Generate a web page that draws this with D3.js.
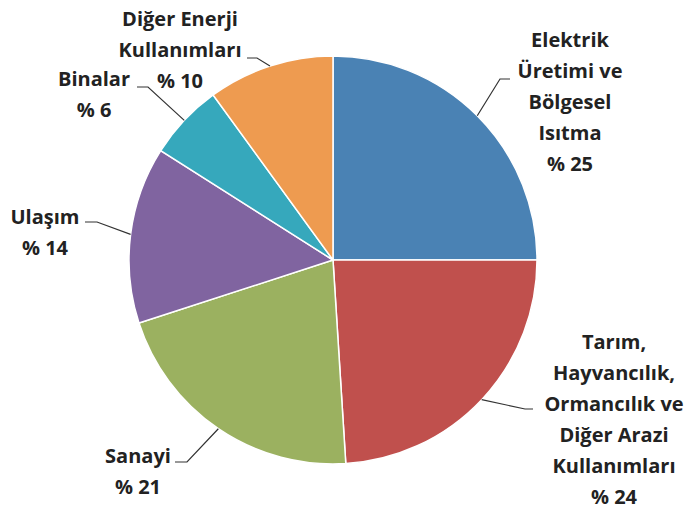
<!DOCTYPE html>
<html>
  <head>
    <meta charset="utf-8">
    <title>Sektörlere göre emisyon payları</title>
    <script src="https://d3js.org/d3.v7.min.js"></script>
    <style>
      body { margin: 0; background: #fff; }
      text { font-family: "Open Sans", Lato, sans-serif; font-weight: bold; fill: #222; }
    </style>
  </head>
  <body>
    <script>

      // data, clockwise from 12 o'clock
      var categories = ["Elektrik Üretimi ve Bölgesel Isıtma",
                        "Tarım, Hayvancılık, Ormancılık ve Diğer Arazi Kullanımları",
                        "Sanayi", "Ulaşım", "Binalar", "Diğer Enerji Kullanımları"];
      var values = [25, 24, 21, 14, 6, 10];
      var labelLines = [
        ["Elektrik", "Üretimi ve", "Bölgesel", "Isıtma", "% 25"],
        ["Tarım,", "Hayvancılık,", "Ormancılık ve", "Diğer Arazi", "Kullanımları", "% 24"],
        ["Sanayi", "% 21"],
        ["Ulaşım", "% 14"],
        ["Binalar", "% 6"],
        ["Diğer Enerji", "Kullanımları", "% 10"]
      ];
      var colors = ["#4a82b4", "#c0504d", "#9bb160", "#8064a0", "#36a8bc", "#ee9b50"];

      var width = 690, height = 509;
      var cx = 333, cy = 260, r = 204;

      // label layout: text block centre x, first line y, leader elbow and end
      var layout = [
        { x: 570, y: 40,  knee: [500, 79],  end: [510, 79] },
        { x: 614, y: 342, knee: [525, 409], end: [533, 409] },
        { x: 138, y: 456, knee: [187, 462], end: [175, 462] },
        { x: 45,  y: 217, knee: [97, 222],  end: [85, 222] },
        { x: 94,  y: 79,  knee: [148, 87],  end: [137, 87] },
        { x: 180, y: 19,  knee: [257, 58],  end: [247, 58] }
      ];
      var lineH = 31;

      var svg = d3.select("body").append("svg")
                  .attr("width", width)
                  .attr("height", height);

      var pie = d3.pie().sort(null).value(function(d) { return d; });
      var arcs = pie(values);

      var arc = d3.arc().innerRadius(0).outerRadius(r);
      var rim = d3.arc().innerRadius(r).outerRadius(r);

      var g = svg.append("g").attr("transform", "translate(" + cx + "," + cy + ")");

      g.selectAll("path")
        .data(arcs)
        .enter()
        .append("path")
        .attr("d", arc)
        .attr("fill", function(d, i) { return colors[i]; })
        .attr("stroke", "#fff")
        .attr("stroke-width", 1.5);

      // leader lines from the middle of each slice's rim
      svg.selectAll("polyline")
        .data(arcs)
        .enter()
        .append("polyline")
        .attr("points", function(d, i) {
          var c = rim.centroid(d);
          var p = [[cx + c[0], cy + c[1]], layout[i].knee, layout[i].end];
          return p.map(function(q) { return q.join(","); }).join(" ");
        })
        .attr("fill", "none")
        .attr("stroke", "#333")
        .attr("stroke-width", 1.2);

      var labels = svg.selectAll("text.lbl")
        .data(labelLines)
        .enter()
        .append("text")
        .attr("class", "lbl")
        .attr("text-anchor", "middle")
        .attr("font-size", 20);

      labels.selectAll("tspan")
        .data(function(d, i) { return d.map(function(t) { return { t: t, i: i }; }); })
        .enter()
        .append("tspan")
        .attr("x", function(d) { return layout[d.i].x; })
        .attr("y", function(d, j) { return layout[d.i].y + j * lineH; })
        .attr("dy", "0.35em")
        .text(function(d) { return d.t; });

    </script>
  </body>
</html>
